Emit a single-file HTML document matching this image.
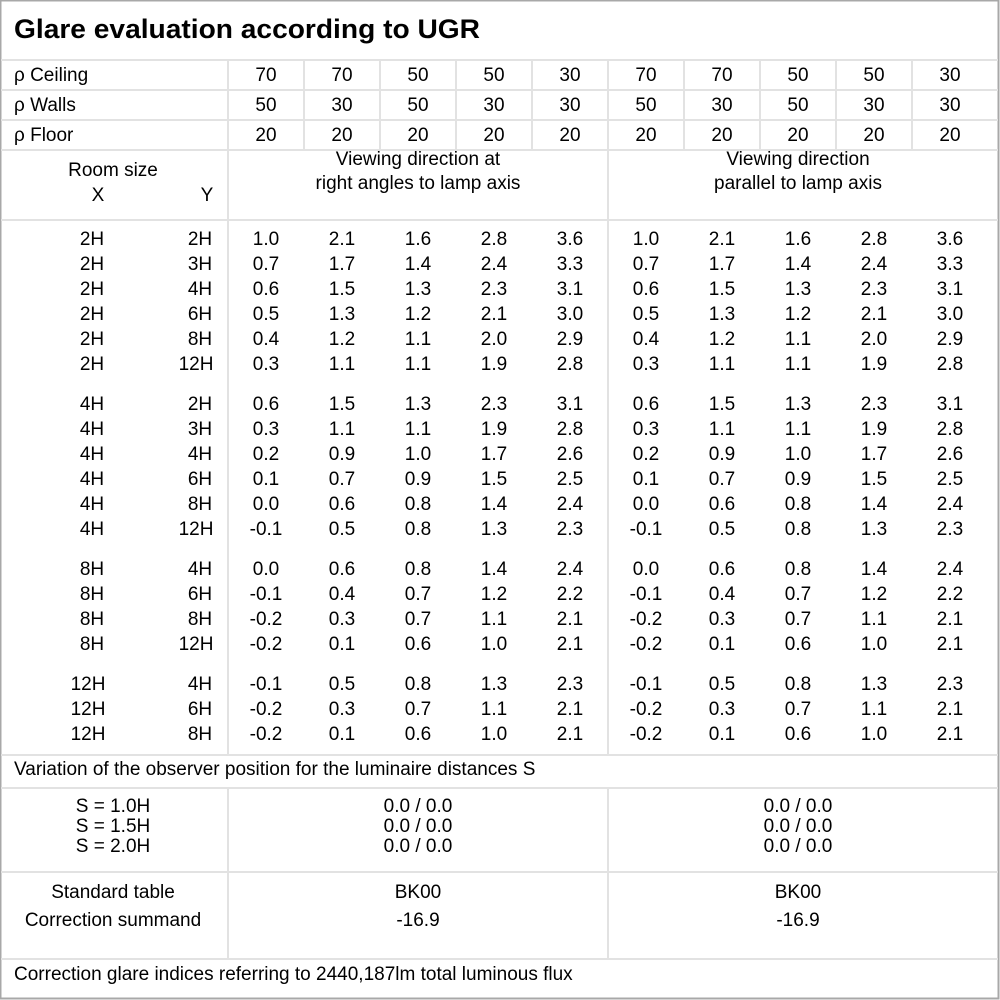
<!DOCTYPE html>
<html><head><meta charset="utf-8"><style>
html,body{margin:0;padding:0;background:#fff}
svg{display:block}
text{font-family:"Liberation Sans",sans-serif;font-size:19px;fill:#000}
.c{text-anchor:middle}
</style></head><body>
<svg width="1000" height="1000" viewBox="0 0 1000 1000" xmlns="http://www.w3.org/2000/svg">
<rect x="0.5" y="0.5" width="998" height="998" fill="#fff" stroke="#a8a8a8" stroke-width="2"/>
<g stroke="#e2e2e2" stroke-width="2">
<line x1="1" y1="60" x2="998" y2="60"/>
<line x1="1" y1="90" x2="998" y2="90"/>
<line x1="1" y1="120" x2="998" y2="120"/>
<line x1="1" y1="150" x2="998" y2="150"/>
<line x1="1" y1="220" x2="998" y2="220"/>
<line x1="1" y1="755" x2="998" y2="755"/>
<line x1="1" y1="788" x2="998" y2="788"/>
<line x1="1" y1="872" x2="998" y2="872"/>
<line x1="1" y1="959" x2="998" y2="959"/>
<line x1="228" y1="60" x2="228" y2="755"/>
<line x1="608" y1="60" x2="608" y2="755"/>
<line x1="228" y1="788" x2="228" y2="959"/>
<line x1="608" y1="788" x2="608" y2="959"/>
<line x1="304" y1="60" x2="304" y2="150"/>
<line x1="380" y1="60" x2="380" y2="150"/>
<line x1="456" y1="60" x2="456" y2="150"/>
<line x1="532" y1="60" x2="532" y2="150"/>
<line x1="684" y1="60" x2="684" y2="150"/>
<line x1="760" y1="60" x2="760" y2="150"/>
<line x1="836" y1="60" x2="836" y2="150"/>
<line x1="912" y1="60" x2="912" y2="150"/>
</g>
<text x="14" y="38" style="font-size:27px;font-weight:bold" textLength="466" lengthAdjust="spacingAndGlyphs">Glare evaluation according to UGR</text>
<text x="14" y="81">ρ Ceiling</text>
<text x="14" y="111">ρ Walls</text>
<text x="14" y="141">ρ Floor</text>
<g class="c">
<text x="266" y="81">70</text><text x="342" y="81">70</text><text x="418" y="81">50</text><text x="494" y="81">50</text><text x="570" y="81">30</text>
<text x="646" y="81">70</text><text x="722" y="81">70</text><text x="798" y="81">50</text><text x="874" y="81">50</text><text x="950" y="81">30</text>
<text x="266" y="111">50</text><text x="342" y="111">30</text><text x="418" y="111">50</text><text x="494" y="111">30</text><text x="570" y="111">30</text>
<text x="646" y="111">50</text><text x="722" y="111">30</text><text x="798" y="111">50</text><text x="874" y="111">30</text><text x="950" y="111">30</text>
<text x="266" y="141">20</text><text x="342" y="141">20</text><text x="418" y="141">20</text><text x="494" y="141">20</text><text x="570" y="141">20</text>
<text x="646" y="141">20</text><text x="722" y="141">20</text><text x="798" y="141">20</text><text x="874" y="141">20</text><text x="950" y="141">20</text>
<text x="113" y="176">Room size</text>
<text x="98" y="201">X</text><text x="207" y="201">Y</text>
<text x="418" y="165">Viewing direction at</text>
<text x="418" y="189">right angles to lamp axis</text>
<text x="798" y="165">Viewing direction</text>
<text x="798" y="189">parallel to lamp axis</text>
</g>
<text x="14" y="775">Variation of the observer position for the luminaire distances S</text>
<g class="c">
<text x="113" y="812">S = 1.0H</text><text x="113" y="832">S = 1.5H</text><text x="113" y="852">S = 2.0H</text>
<text x="418" y="812">0.0 / 0.0</text><text x="418" y="832">0.0 / 0.0</text><text x="418" y="852">0.0 / 0.0</text>
<text x="798" y="812">0.0 / 0.0</text><text x="798" y="832">0.0 / 0.0</text><text x="798" y="852">0.0 / 0.0</text>
<text x="113" y="898">Standard table</text><text x="113" y="926">Correction summand</text>
<text x="418" y="898">BK00</text><text x="418" y="926">-16.9</text>
<text x="798" y="898">BK00</text><text x="798" y="926">-16.9</text>
</g>
<text x="14" y="980">Correction glare indices referring to 2440,187lm total luminous flux</text>
<g class="c">
<text x="92" y="245">2H</text><text x="200" y="245">2H</text><text x="266" y="245">1.0</text><text x="342" y="245">2.1</text><text x="418" y="245">1.6</text><text x="494" y="245">2.8</text><text x="570" y="245">3.6</text><text x="646" y="245">1.0</text><text x="722" y="245">2.1</text><text x="798" y="245">1.6</text><text x="874" y="245">2.8</text><text x="950" y="245">3.6</text>
<text x="92" y="270">2H</text><text x="200" y="270">3H</text><text x="266" y="270">0.7</text><text x="342" y="270">1.7</text><text x="418" y="270">1.4</text><text x="494" y="270">2.4</text><text x="570" y="270">3.3</text><text x="646" y="270">0.7</text><text x="722" y="270">1.7</text><text x="798" y="270">1.4</text><text x="874" y="270">2.4</text><text x="950" y="270">3.3</text>
<text x="92" y="295">2H</text><text x="200" y="295">4H</text><text x="266" y="295">0.6</text><text x="342" y="295">1.5</text><text x="418" y="295">1.3</text><text x="494" y="295">2.3</text><text x="570" y="295">3.1</text><text x="646" y="295">0.6</text><text x="722" y="295">1.5</text><text x="798" y="295">1.3</text><text x="874" y="295">2.3</text><text x="950" y="295">3.1</text>
<text x="92" y="320">2H</text><text x="200" y="320">6H</text><text x="266" y="320">0.5</text><text x="342" y="320">1.3</text><text x="418" y="320">1.2</text><text x="494" y="320">2.1</text><text x="570" y="320">3.0</text><text x="646" y="320">0.5</text><text x="722" y="320">1.3</text><text x="798" y="320">1.2</text><text x="874" y="320">2.1</text><text x="950" y="320">3.0</text>
<text x="92" y="345">2H</text><text x="200" y="345">8H</text><text x="266" y="345">0.4</text><text x="342" y="345">1.2</text><text x="418" y="345">1.1</text><text x="494" y="345">2.0</text><text x="570" y="345">2.9</text><text x="646" y="345">0.4</text><text x="722" y="345">1.2</text><text x="798" y="345">1.1</text><text x="874" y="345">2.0</text><text x="950" y="345">2.9</text>
<text x="92" y="370">2H</text><text x="196" y="370">12H</text><text x="266" y="370">0.3</text><text x="342" y="370">1.1</text><text x="418" y="370">1.1</text><text x="494" y="370">1.9</text><text x="570" y="370">2.8</text><text x="646" y="370">0.3</text><text x="722" y="370">1.1</text><text x="798" y="370">1.1</text><text x="874" y="370">1.9</text><text x="950" y="370">2.8</text>

<text x="92" y="410">4H</text><text x="200" y="410">2H</text><text x="266" y="410">0.6</text><text x="342" y="410">1.5</text><text x="418" y="410">1.3</text><text x="494" y="410">2.3</text><text x="570" y="410">3.1</text><text x="646" y="410">0.6</text><text x="722" y="410">1.5</text><text x="798" y="410">1.3</text><text x="874" y="410">2.3</text><text x="950" y="410">3.1</text>
<text x="92" y="435">4H</text><text x="200" y="435">3H</text><text x="266" y="435">0.3</text><text x="342" y="435">1.1</text><text x="418" y="435">1.1</text><text x="494" y="435">1.9</text><text x="570" y="435">2.8</text><text x="646" y="435">0.3</text><text x="722" y="435">1.1</text><text x="798" y="435">1.1</text><text x="874" y="435">1.9</text><text x="950" y="435">2.8</text>
<text x="92" y="460">4H</text><text x="200" y="460">4H</text><text x="266" y="460">0.2</text><text x="342" y="460">0.9</text><text x="418" y="460">1.0</text><text x="494" y="460">1.7</text><text x="570" y="460">2.6</text><text x="646" y="460">0.2</text><text x="722" y="460">0.9</text><text x="798" y="460">1.0</text><text x="874" y="460">1.7</text><text x="950" y="460">2.6</text>
<text x="92" y="485">4H</text><text x="200" y="485">6H</text><text x="266" y="485">0.1</text><text x="342" y="485">0.7</text><text x="418" y="485">0.9</text><text x="494" y="485">1.5</text><text x="570" y="485">2.5</text><text x="646" y="485">0.1</text><text x="722" y="485">0.7</text><text x="798" y="485">0.9</text><text x="874" y="485">1.5</text><text x="950" y="485">2.5</text>
<text x="92" y="510">4H</text><text x="200" y="510">8H</text><text x="266" y="510">0.0</text><text x="342" y="510">0.6</text><text x="418" y="510">0.8</text><text x="494" y="510">1.4</text><text x="570" y="510">2.4</text><text x="646" y="510">0.0</text><text x="722" y="510">0.6</text><text x="798" y="510">0.8</text><text x="874" y="510">1.4</text><text x="950" y="510">2.4</text>
<text x="92" y="535">4H</text><text x="196" y="535">12H</text><text x="266" y="535">-0.1</text><text x="342" y="535">0.5</text><text x="418" y="535">0.8</text><text x="494" y="535">1.3</text><text x="570" y="535">2.3</text><text x="646" y="535">-0.1</text><text x="722" y="535">0.5</text><text x="798" y="535">0.8</text><text x="874" y="535">1.3</text><text x="950" y="535">2.3</text>

<text x="92" y="575">8H</text><text x="200" y="575">4H</text><text x="266" y="575">0.0</text><text x="342" y="575">0.6</text><text x="418" y="575">0.8</text><text x="494" y="575">1.4</text><text x="570" y="575">2.4</text><text x="646" y="575">0.0</text><text x="722" y="575">0.6</text><text x="798" y="575">0.8</text><text x="874" y="575">1.4</text><text x="950" y="575">2.4</text>
<text x="92" y="600">8H</text><text x="200" y="600">6H</text><text x="266" y="600">-0.1</text><text x="342" y="600">0.4</text><text x="418" y="600">0.7</text><text x="494" y="600">1.2</text><text x="570" y="600">2.2</text><text x="646" y="600">-0.1</text><text x="722" y="600">0.4</text><text x="798" y="600">0.7</text><text x="874" y="600">1.2</text><text x="950" y="600">2.2</text>
<text x="92" y="625">8H</text><text x="200" y="625">8H</text><text x="266" y="625">-0.2</text><text x="342" y="625">0.3</text><text x="418" y="625">0.7</text><text x="494" y="625">1.1</text><text x="570" y="625">2.1</text><text x="646" y="625">-0.2</text><text x="722" y="625">0.3</text><text x="798" y="625">0.7</text><text x="874" y="625">1.1</text><text x="950" y="625">2.1</text>
<text x="92" y="650">8H</text><text x="196" y="650">12H</text><text x="266" y="650">-0.2</text><text x="342" y="650">0.1</text><text x="418" y="650">0.6</text><text x="494" y="650">1.0</text><text x="570" y="650">2.1</text><text x="646" y="650">-0.2</text><text x="722" y="650">0.1</text><text x="798" y="650">0.6</text><text x="874" y="650">1.0</text><text x="950" y="650">2.1</text>

<text x="88" y="690">12H</text><text x="200" y="690">4H</text><text x="266" y="690">-0.1</text><text x="342" y="690">0.5</text><text x="418" y="690">0.8</text><text x="494" y="690">1.3</text><text x="570" y="690">2.3</text><text x="646" y="690">-0.1</text><text x="722" y="690">0.5</text><text x="798" y="690">0.8</text><text x="874" y="690">1.3</text><text x="950" y="690">2.3</text>
<text x="88" y="715">12H</text><text x="200" y="715">6H</text><text x="266" y="715">-0.2</text><text x="342" y="715">0.3</text><text x="418" y="715">0.7</text><text x="494" y="715">1.1</text><text x="570" y="715">2.1</text><text x="646" y="715">-0.2</text><text x="722" y="715">0.3</text><text x="798" y="715">0.7</text><text x="874" y="715">1.1</text><text x="950" y="715">2.1</text>
<text x="88" y="740">12H</text><text x="200" y="740">8H</text><text x="266" y="740">-0.2</text><text x="342" y="740">0.1</text><text x="418" y="740">0.6</text><text x="494" y="740">1.0</text><text x="570" y="740">2.1</text><text x="646" y="740">-0.2</text><text x="722" y="740">0.1</text><text x="798" y="740">0.6</text><text x="874" y="740">1.0</text><text x="950" y="740">2.1</text>
</g>
</svg>
</body></html>
